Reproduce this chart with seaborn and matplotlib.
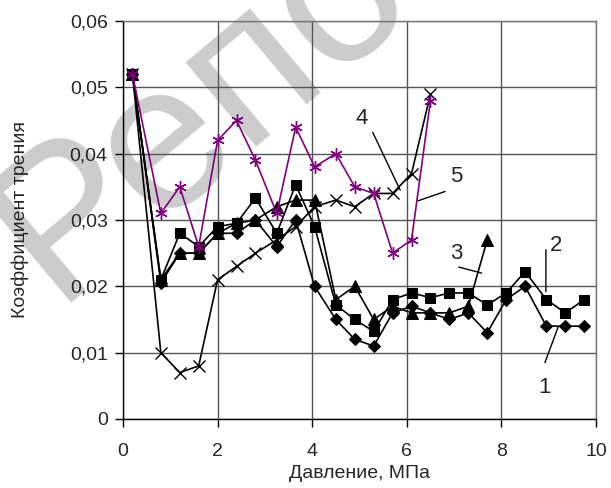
import matplotlib
matplotlib.use('Agg')
import matplotlib.pyplot as plt
import seaborn as sns
from matplotlib.ticker import FuncFormatter, MultipleLocator

# ---------- data ----------
pressure = [0.2, 0.8, 1.2, 1.6, 2.0, 2.4, 2.8, 3.25, 3.65, 4.05, 4.5, 4.9,
            5.3, 5.7, 6.1, 6.5, 6.9, 7.3, 7.7, 8.1, 8.5, 8.95, 9.35, 9.75]

curve1 = [0.052, 0.0205, 0.025, 0.025, 0.028, 0.028, 0.030, 0.026, 0.030, 0.020,
          0.015, 0.012, 0.011, 0.016, 0.017, 0.016, 0.015, 0.016, 0.013, 0.018,
          0.020, 0.014, 0.014, 0.014]
curve2 = [0.052, 0.021, 0.028, 0.026, 0.029, 0.0295, 0.0333, 0.028, 0.0353, 0.029,
          0.0172, 0.015, 0.0132, 0.018, 0.019, 0.0183, 0.019, 0.019, 0.0172, 0.019,
          0.0222, 0.018, 0.016, 0.018]
curve3 = [0.052, 0.021, 0.025, 0.025, 0.028, 0.0295, 0.030, 0.032, 0.033, 0.033,
          0.018, 0.020, 0.015, 0.017, 0.016, 0.016, 0.016, 0.017, 0.027]
curve4 = [0.052, 0.010, 0.007, 0.008, 0.021, 0.023, 0.025, 0.027, 0.029, 0.032,
          0.033, 0.032, 0.034, 0.034, 0.037, 0.049]
curve5 = [0.052, 0.031, 0.035, 0.026, 0.042, 0.045, 0.039, 0.031, 0.044, 0.038,
          0.040, 0.035, 0.034, 0.025, 0.027, 0.048]

curve_labels = ['1', '2', '3', '4', '5']
# label text position, leader line start, leader line end (data units)
label_pos = [(8.92, 0.0047), (9.15, 0.0262), (7.04, 0.0250), (5.05, 0.0453), (7.04, 0.0365)]
leader_from = [(8.92, 0.0085), (8.94, 0.0255), (7.10, 0.0229), (5.28, 0.0432), (6.81, 0.0343)]
leader_to = [(9.20, 0.0139), (8.94, 0.0192), (7.58, 0.0220), (5.86, 0.0345), (6.24, 0.0329)]

# ---------- style ----------
sns.set_style('white')
plt.rcParams['font.family'] = ['Liberation Sans', 'DejaVu Sans']

fig = plt.figure(figsize=(6.11, 4.88), dpi=100)
ax = fig.add_axes([0.2013, 0.1414, 0.7742, 0.8156])
ax.set_facecolor('none')

# watermark of the source site
ax.text(0.089, 0.380, 'Репо', transform=fig.transFigure, rotation=40,
        rotation_mode='anchor', ha='left', va='baseline', fontsize=150,
        color='#cccccc', zorder=0.1, clip_on=False)

styles = [
    dict(marker='D', markersize=6, color='black', mfc='black', mec='black'),
    dict(marker='s', markersize=7, color='black', mfc='black', mec='black'),
    dict(marker='^', markersize=8, color='black', mfc='black', mec='black'),
    dict(marker='x', markersize=8, color='black', mfc='black', mec='black', mew=1.0),
    dict(marker=(6, 2, 0), markersize=9, color='#800080', mfc='#800080', mec='#800080', mew=1.0),
]

for vals, st in zip([curve1, curve2, curve3, curve4, curve5], styles):
    sns.lineplot(x=pressure[:len(vals)], y=vals, ax=ax, linewidth=1.2, zorder=3, **st)

for lab, p, a, b in zip(curve_labels, label_pos, leader_from, leader_to):
    ax.text(p[0], p[1], lab, fontsize=16, ha='center', va='center', zorder=4)
    ax.annotate('', xy=b, xytext=a,
                arrowprops=dict(arrowstyle='-', color='black', lw=1, shrinkA=0, shrinkB=0))

ax.set_xlim(0, 10)
ax.set_ylim(0, 0.06)
ax.xaxis.set_major_locator(MultipleLocator(2))
ax.yaxis.set_major_locator(MultipleLocator(0.01))
ax.yaxis.set_major_formatter(FuncFormatter(
    lambda v, p: '0' if abs(v) < 1e-9 else f'{v:.2f}'.replace('.', ',')))
ax.grid(True, color='#555555', linewidth=1)
ax.set_axisbelow(True)

for side in ['left', 'bottom']:
    ax.spines[side].set_color('black')
    ax.spines[side].set_linewidth(1)
for side in ['top', 'right']:
    ax.spines[side].set_color('#777777')
    ax.spines[side].set_linewidth(1)

ax.tick_params(axis='both', direction='out', length=6, width=1, color='black',
               labelsize=14, left=True, bottom=True)
ax.tick_params(axis='x', pad=11)
ax.tick_params(axis='y', pad=5)
ax.set_xlabel('Давление, МПа', fontsize=14, labelpad=4)
ax.set_ylabel('Коэффициент трения', fontsize=14, labelpad=29)

fig.savefig('out.png', dpi=100)
